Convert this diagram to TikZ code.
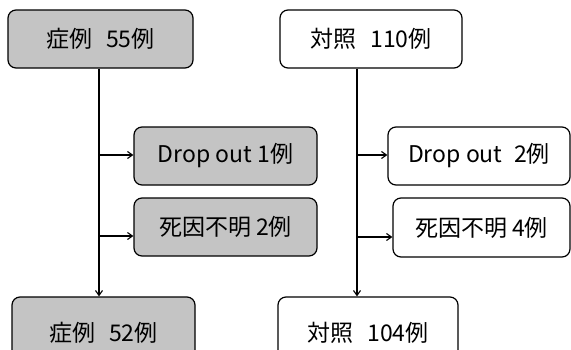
\documentclass[tikz,border=0pt]{standalone}
\usepackage{fontspec}
\setmainfont{Noto Sans CJK JP}
\usetikzlibrary{arrows.meta}
\definecolor{boxgray}{HTML}{C4C4C4}
\tikzset{
  flowbox/.style={draw=black, line width=1.2pt, rounded corners=8pt, inner sep=0pt,
    font=\fontsize{23}{27}\selectfont},
  graybox/.style={flowbox, fill=boxgray},
  whitebox/.style={flowbox, fill=white},
  conn/.style={line width=1.1pt, -{Straight Barb[length=5pt,width=7pt]}}
}
\begin{document}
\begin{tikzpicture}[x=1pt,y=-1pt]
\useasboundingbox (0,0) rectangle (571,349);
\clip (0,0) rectangle (571,349);
\fill[white] (0,0) rectangle (571,349);
\node[graybox, minimum width=185pt, minimum height=58pt] (A) at (100.5,39) {症例\hspace{0.6em}55例};
\node[whitebox, minimum width=182pt, minimum height=58pt] (B) at (371,39) {対照\hspace{0.6em}110例};
\node[graybox, minimum width=183pt, minimum height=58pt] (C) at (225.5,156) {Drop out 1例};
\node[graybox, minimum width=183pt, minimum height=58pt] (D) at (225.5,227) {死因不明 2例};
\node[graybox, minimum width=183pt, minimum height=72pt] (E) at (103.5,333) {症例\hspace{0.6em}52例};
\node[whitebox, minimum width=182pt, minimum height=58pt] (F) at (479,156) {Drop out\hspace{0.5em}2例};
\node[whitebox, minimum width=177pt, minimum height=59pt] (G) at (481.5,227.5) {死因不明 4例};
\node[whitebox, minimum width=180pt, minimum height=72pt] (H) at (368,333) {対照\hspace{0.6em}104例};
\coordinate (a1) at (99,155);
\coordinate (a2) at (99,236);
\coordinate (b1) at (357,155);
\coordinate (b2) at (357,237);
\draw[conn] (A.south -| a1) -- (E.north -| a1);
\draw[conn] (a1) -- (C.west |- a1);
\draw[conn] (a2) -- (D.west |- a2);
\draw[conn] (B.south -| b1) -- (H.north -| b1);
\draw[conn] (b1) -- (F.west |- b1);
\draw[conn] (b2) -- (G.west |- b2);
\end{tikzpicture}
\end{document}
